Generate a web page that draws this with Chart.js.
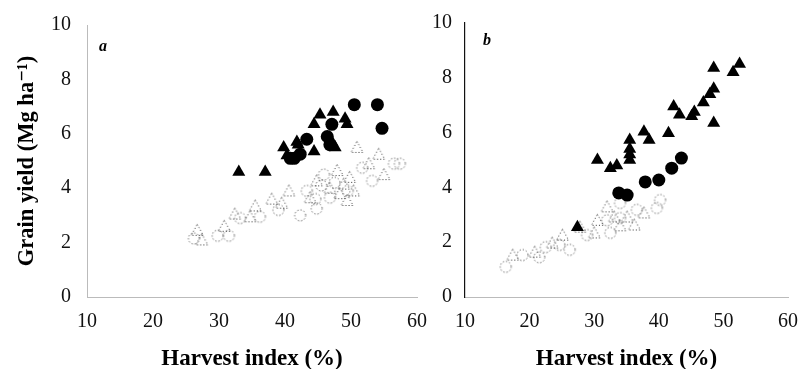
<!DOCTYPE html>
<html><head><meta charset="utf-8">
<script src="https://cdn.jsdelivr.net/npm/chart.js@4.4.1/dist/chart.umd.min.js"></script>
<style>
html,body{margin:0;padding:0;background:#fff;}
#wa{position:absolute;left:0;top:0;width:432px;height:369px;}
#wb{position:absolute;left:425px;top:0;width:378px;height:369px;}
</style></head>
<body>
<div id="wa"><canvas id="ca"></canvas></div>
<div id="wb"><canvas id="cb"></canvas></div>
<script>
// ---------- DATA ----------
const xTicks = [10, 20, 30, 40, 50, 60];
const yTicks = [0, 2, 4, 6, 8, 10];
const xTitle = 'Harvest index (%)';
const yTitle = 'Grain yield (Mg ha\u207B\u00B9)';

// Panel a
const aFilledTriangles = [[33,4.6],[37,4.6],[39.8,5.5],[40.3,5.2],[41.8,5.7],[42,5.6],[44.4,5.35],[44.4,6.35],[45.3,6.7],[47.3,6.8],[47.1,5.7],[47.6,5.5],[49.1,6.55],[49.4,6.35]];
const aFilledCircles = [[50.5,7.07],[54,7.07],[54.7,6.2],[47.1,6.35],[46.4,5.9],[42.3,5.25],[40.8,5.1],[43.3,5.8],[41.4,5.1],[46.8,5.6]];
const aOpenTriangles = [[26.7,2.45],[27.4,2.1],[30.8,2.6],[32.4,3.05],[34.7,2.95],[35.5,3.35],[38,3.6],[39.5,3.45],[40.6,3.9],[44.8,4.27],[46.8,4.0],[48.9,4.15],[49.8,4.4],[43.8,3.65],[49.4,3.55],[50.9,5.5],[54.2,5.25],[52.7,4.9],[47.9,4.65],[48.3,3.8],[50.4,3.9],[55,4.5]];
const aOpenCircles = [[26.2,2.15],[29.8,2.25],[31.5,2.25],[33.2,2.9],[36.2,2.95],[39,3.2],[42.3,3.0],[44.8,3.25],[45.9,4.5],[43.3,3.9],[46.8,3.65],[51.7,4.75],[53.2,4.27],[56.5,4.9],[57.4,4.9],[45.5,4.1],[47.5,4.2],[49.5,3.9],[44.6,3.6]];

// Panel b
const bFilledTriangles = [[48.5,8.36],[51.5,8.2],[52.5,8.5],[48.5,7.6],[47.9,7.4],[46.9,7.1],[45.5,6.75],[45.1,6.6],[48.5,6.35],[42.3,6.95],[43.2,6.65],[41.5,5.98],[37.7,6.03],[38.5,5.73],[35.5,5.73],[35.5,5.4],[35.5,5.2],[35.5,5.0],[30.5,5.0],[32.5,4.7],[33.5,4.8],[27.4,2.55]];
const bFilledCircles = [[33.8,3.8],[35.1,3.72],[37.9,4.2],[40,4.27],[42,4.7],[43.5,5.07]];
const bOpenTriangles = [[17.4,1.53],[20.8,1.64],[23.5,1.97],[25.1,2.26],[27.8,2.55],[30.5,2.8],[33.1,2.92],[35.1,2.92],[37.7,3.07],[32,3.29],[30,2.34],[36.2,2.63],[34,2.6]];
const bOpenCircles = [[16.3,1.1],[18.9,1.53],[22.5,1.82],[24.6,1.9],[26.2,1.72],[28.9,2.26],[32,2.8],[34,2.88],[36.6,3.18],[39.7,3.25],[40.2,3.54],[34,3.43],[32.5,2.34],[21.5,1.45]];

// ---------- helpers ----------
function toPts(arr){ return arr.map(p => ({x:p[0], y:p[1]})); }

function dottedMarker(kind){
  const s = 15, c = document.createElement('canvas');
  c.width = s; c.height = s;
  const g = c.getContext('2d');
  g.strokeStyle = '#333'; g.lineWidth = 1; g.setLineDash([1,2.2]);
  g.beginPath();
  if (kind === 'tri'){ g.moveTo(7.5,1.5); g.lineTo(13.5,12.5); g.lineTo(1.5,12.5); g.closePath(); }
  else { g.arc(7.5,7.5,5.5,0,Math.PI*2); }
  g.stroke();
  return c;
}
const openTri = dottedMarker('tri');
const openCir = dottedMarker('cir');

const serif = "'Liberation Serif', 'DejaVu Serif', serif";

function datasets(ft, fc, ot, oc){
  return [
    {data: toPts(ft), pointStyle:'triangle', pointRadius:7.5, backgroundColor:'#000', borderColor:'#000', borderWidth:0},
    {data: toPts(fc), pointStyle:'circle', pointRadius:6.5, backgroundColor:'#000', borderColor:'#000', borderWidth:0},
    {data: toPts(ot), pointStyle:openTri, pointRadius:7},
    {data: toPts(oc), pointStyle:openCir, pointRadius:7}
  ];
}

const panelLabel = {
  id:'panelLabel',
  afterDraw(chart, args, opts){
    const ctx = chart.ctx, a = chart.chartArea;
    ctx.save();
    ctx.font = "italic bold 16px " + serif;
    ctx.fillStyle = '#000';
    ctx.textAlign = 'left'; ctx.textBaseline = 'middle';
    ctx.fillText(opts.text, a.left + opts.dx, a.top + opts.dy);
    ctx.restore();
  }
};

function makeChart(id, ds, cfg){
  return new Chart(document.getElementById(id), {
    type:'scatter',
    data:{datasets: ds},
    plugins:[panelLabel],
    options:{
      responsive:true, maintainAspectRatio:false, animation:false,
      layout:{padding:{top:cfg.top, right:cfg.right, left:0, bottom:0}},
      plugins:{legend:{display:false}, tooltip:{enabled:false}, panelLabel:{text:cfg.label, dx:cfg.ldx, dy:cfg.ldy}},
      scales:{
        x:{type:'linear', min:10, max:60,
          afterBuildTicks(s){ s.ticks = xTicks.map(v=>({value:v})); },
          afterFit(s){ s.height = 72; },
          grid:{display:false},
          border:{display:true, color:'#bbb', width:1, dash:[1,14]},
          ticks:{font:{family:serif, size:20}, color:'#111', padding:5},
          title:{display:true, text:xTitle, font:{family:serif, size:23, weight:'bold'}, color:'#000', padding:{top:0,bottom:-4}}
        },
        y:{type:'linear', min:0, max:10,
          afterBuildTicks(s){ s.ticks = yTicks.map(v=>({value:v})); },
          afterFit(s){ s.width = cfg.yw; },
          grid:{display:false},
          border:cfg.yborder,
          ticks:{font:{family:serif, size:20}, color:'#111', padding:cfg.ypad},
          title:{display:cfg.ytitle, text:yTitle, font:{family:serif, size:22.5, weight:'bold'}, color:'#000', padding:{top:14,bottom:0}}
        }
      }
    }
  });
}

makeChart('ca', datasets(aFilledTriangles, aFilledCircles, aOpenTriangles, aOpenCircles),
  {top:25, right:12, yw:87, ypad:8, ytitle:true, label:'a', ldx:12, ldy:22,
   yborder:{display:true, color:'#bbb', width:1, dash:[1,14]}});
makeChart('cb', datasets(bFilledTriangles, bFilledCircles, bOpenTriangles, bOpenCircles),
  {top:23, right:13, yw:40, ypad:5, ytitle:false, label:'b', ldx:18, ldy:18,
   yborder:{display:true, color:'#111', width:1.2}});
</script>
</body></html>
